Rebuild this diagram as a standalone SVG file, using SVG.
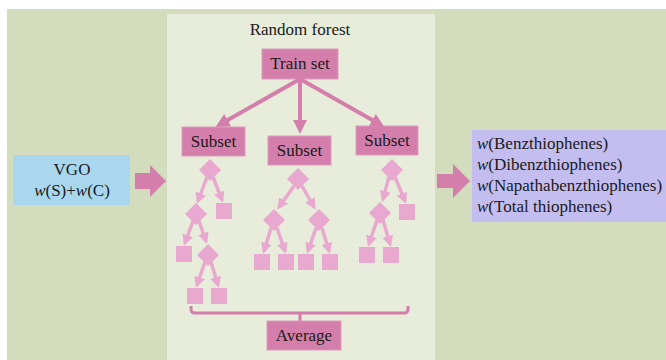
<svg xmlns="http://www.w3.org/2000/svg" width="666" height="360" viewBox="0 0 666 360">
  <style>
    .lbl { font-family: "Liberation Serif", "Times New Roman", serif; font-size: 17px; fill: #1a1a1a; }
    .box { fill: #d47fab; stroke: #de9bc0; stroke-width: 1; }
    .node { fill: #e8a8d0; }
    .main { stroke: #d47fab; stroke-width: 4; fill: none; }
    .tree { stroke: #e8a8d0; stroke-width: 3.5; fill: none; }
    .bracket { stroke: #d47fab; stroke-width: 3; fill: none; }
  </style>
  <defs>
    <marker id="headMain" markerUnits="userSpaceOnUse" markerWidth="14" markerHeight="14" viewBox="0 0 14 14" refX="10" refY="7" orient="auto">
      <path d="M0,0 L14,7 L0,14 z" fill="#d47fab"/>
    </marker>
    <marker id="headTree" markerUnits="userSpaceOnUse" markerWidth="11" markerHeight="11" viewBox="0 0 11 11" refX="8" refY="5.5" orient="auto">
      <path d="M0,0 L11,5.5 L0,11 z" fill="#e8a8d0"/>
    </marker>
  </defs>

  <!-- backgrounds -->
  <rect x="0" y="0" width="666" height="360" fill="#ffffff"/>
  <rect x="7" y="9" width="659" height="351" fill="#d3dcbd"/>
  <rect x="167" y="14" width="268" height="346" fill="#e8ecda"/>

  <text class="lbl" x="300" y="35" text-anchor="middle">Random forest</text>

  <!-- input -->
  <g id="vgo">
    <rect x="13" y="155" width="117" height="50" fill="#a9d8ee"/>
    <text class="lbl" x="72" y="175" text-anchor="middle">VGO</text>
    <text class="lbl" x="72" y="196" text-anchor="middle"><tspan font-style="italic">w</tspan>(S)+<tspan font-style="italic">w</tspan>(C)</text>
  </g>

  <!-- output -->
  <g id="outputs">
    <rect x="472" y="130" width="194" height="92" fill="#c3bdf0"/>
    <text class="lbl" x="477" y="149"><tspan font-style="italic">w</tspan>(Benzthiophenes)</text>
    <text class="lbl" x="477" y="170"><tspan font-style="italic">w</tspan>(Dibenzthiophenes)</text>
    <text class="lbl" x="477" y="191"><tspan font-style="italic">w</tspan>(Napathabenzthiophenes)</text>
    <text class="lbl" x="477" y="212"><tspan font-style="italic">w</tspan>(Total thiophenes)</text>
  </g>

  <g id="train-set">
    <rect class="box" x="262" y="49" width="76" height="30"/>
    <text class="lbl" x="300" y="69" text-anchor="middle">Train set</text>
  </g>
  <g id="subset-1">
    <rect class="box" x="182" y="127" width="63" height="29"/>
    <text class="lbl" x="213.5" y="147" text-anchor="middle">Subset</text>
  </g>
  <g id="subset-2">
    <rect class="box" x="268" y="136" width="63" height="29"/>
    <text class="lbl" x="299.5" y="156" text-anchor="middle">Subset</text>
  </g>
  <g id="subset-3">
    <rect class="box" x="356" y="126" width="62" height="29"/>
    <text class="lbl" x="387" y="146" text-anchor="middle">Subset</text>
  </g>
  <g id="average">
    <rect class="box" x="267" y="321" width="74" height="29"/>
    <text class="lbl" x="304" y="341" text-anchor="middle">Average</text>
  </g>

  <!-- tree 1 -->
  <g id="tree-1">
    <path class="node" d="M210,159 L221,170 L210,181 L199,170 z"/>
    <path class="node" d="M196,203 L207,214 L196,225 L185,214 z"/>
    <rect class="node" x="216" y="203" width="16" height="16"/>
    <rect class="node" x="176" y="246" width="16" height="16"/>
    <path class="node" d="M208,244 L219,255 L208,266 L197,255 z"/>
    <rect class="node" x="187" y="288" width="16" height="16"/>
    <rect class="node" x="211" y="288" width="16" height="16"/>
  </g>
  <!-- tree 2 -->
  <g id="tree-2">
    <path class="node" d="M298,168 L309,179 L298,190 L287,179 z"/>
    <path class="node" d="M274,209 L285,220 L274,231 L263,220 z"/>
    <path class="node" d="M319,209 L330,220 L319,231 L308,220 z"/>
    <rect class="node" x="254" y="254" width="16" height="16"/>
    <rect class="node" x="278" y="254" width="16" height="16"/>
    <rect class="node" x="298" y="254" width="16" height="16"/>
    <rect class="node" x="322" y="254" width="16" height="16"/>
  </g>
  <!-- tree 3 -->
  <g id="tree-3">
    <path class="node" d="M392,159 L403,170 L392,181 L381,170 z"/>
    <path class="node" d="M380,202 L391,213 L380,224 L369,213 z"/>
    <rect class="node" x="399" y="204" width="16" height="16"/>
    <rect class="node" x="359" y="247" width="16" height="16"/>
    <rect class="node" x="383" y="247" width="16" height="16"/>
  </g>

  <!-- connectors -->
  <g id="connectors">
    <!-- block arrows -->
    <path d="M135,173 H150 V165 L166,181 L150,197 V189 H135 z" fill="#d47fab"/>
    <path d="M437,174 H453 V164 L470,181 L453,198 V188 H437 z" fill="#d47fab"/>

    <!-- train set to subsets -->
    <line class="main" x1="300" y1="79" x2="219" y2="125" marker-end="url(#headMain)"/>
    <line class="main" x1="300" y1="79" x2="300" y2="130" marker-end="url(#headMain)"/>
    <line class="main" x1="300" y1="79" x2="381" y2="125" marker-end="url(#headMain)"/>

    <!-- tree 1 edges -->
    <line class="tree" x1="207" y1="177" x2="198" y2="201" marker-end="url(#headTree)"/>
    <line class="tree" x1="213" y1="177" x2="222" y2="200" marker-end="url(#headTree)"/>
    <line class="tree" x1="193" y1="221" x2="185" y2="243" marker-end="url(#headTree)"/>
    <line class="tree" x1="199" y1="221" x2="206" y2="241" marker-end="url(#headTree)"/>
    <line class="tree" x1="205" y1="262" x2="197" y2="285" marker-end="url(#headTree)"/>
    <line class="tree" x1="211" y1="262" x2="218" y2="285" marker-end="url(#headTree)"/>

    <!-- tree 2 edges -->
    <line class="tree" x1="294" y1="186" x2="279" y2="207" marker-end="url(#headTree)"/>
    <line class="tree" x1="302" y1="186" x2="314" y2="207" marker-end="url(#headTree)"/>
    <line class="tree" x1="271" y1="228" x2="264" y2="251" marker-end="url(#headTree)"/>
    <line class="tree" x1="277" y1="228" x2="285" y2="251" marker-end="url(#headTree)"/>
    <line class="tree" x1="316" y1="228" x2="308" y2="251" marker-end="url(#headTree)"/>
    <line class="tree" x1="322" y1="228" x2="329" y2="251" marker-end="url(#headTree)"/>

    <!-- tree 3 edges -->
    <line class="tree" x1="389" y1="177" x2="383" y2="199" marker-end="url(#headTree)"/>
    <line class="tree" x1="395" y1="177" x2="405" y2="201" marker-end="url(#headTree)"/>
    <line class="tree" x1="377" y1="220" x2="369" y2="244" marker-end="url(#headTree)"/>
    <line class="tree" x1="383" y1="220" x2="390" y2="244" marker-end="url(#headTree)"/>

    <!-- averaging bracket -->
    <path class="bracket" d="M191,306 V309 Q191,313 195,313 H404 Q408,313 408,309 V306"/>
    <line class="bracket" x1="300" y1="313" x2="300" y2="321"/>
  </g>
</svg>
